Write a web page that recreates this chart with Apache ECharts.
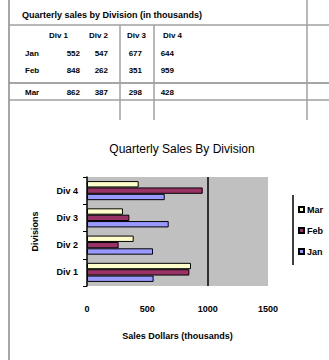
<!DOCTYPE html>
<html>
<head>
<meta charset="utf-8">
<script src="https://cdn.jsdelivr.net/npm/echarts@6/dist/echarts.min.js"></script>
<style>
  html, body { margin: 0; padding: 0; background: #fff; }
  #main { width: 329px; height: 360px; }
</style>
</head>
<body>
<div id="main"></div>
<script>
// sheet data
var tableTitle = 'Quarterly sales by Division (in thousands)';
var divisions = ['Div 1', 'Div 2', 'Div 3', 'Div 4'];
var months = ['Jan', 'Feb', 'Mar'];
var janSales = [552, 547, 677, 644];
var febSales = [848, 262, 351, 959];
var marSales = [862, 387, 298, 428];
var xTicks = [0, 500, 1000, 1500];

var monthRows = [janSales, febSales, marSales];
var monthColors = ['#9999ff', '#993366', '#ffffcc'];

var chartDom = document.getElementById('main');
var myChart = echarts.init(chartDom, null, { renderer: 'svg' });

// spreadsheet grid + table text
var sheet = [];
var gridColor = '#a0a0a0';
function hline(y, x1, x2, c) {
    sheet.push({ type: 'line', shape: { x1: x1, y1: y, x2: x2, y2: y }, style: { stroke: c || gridColor, lineWidth: 1.5 }, silent: true });
}
function vline(x, y1, y2, c) {
    sheet.push({ type: 'line', shape: { x1: x, y1: y1, x2: x, y2: y2 }, style: { stroke: c || gridColor, lineWidth: 1.5 }, silent: true });
}
vline(9, 0, 360, '#888');
hline(25, 9, 329);
hline(83, 9, 329, '#888');
hline(100, 9, 329);
vline(120, 25, 120);
vline(154, 25, 120);
vline(307, 0, 120);

var cellFont = 'bold 8px "Liberation Sans", Arial, sans-serif';
sheet.push({ type: 'text', left: 22, top: 10, style: { text: tableTitle, font: 'bold 9px "Liberation Sans", Arial, sans-serif', fill: '#000' }, silent: true });
var headX = [68, 108, 146, 182];
var valX = [80, 108, 142, 174];
var rowY = [53, 70, 92];
divisions.forEach(function (d, i) {
    sheet.push({ type: 'text', x: headX[i], y: 35, style: { text: d, font: cellFont, fill: '#000', align: 'right', verticalAlign: 'middle' }, silent: true });
});
months.forEach(function (m, r) {
    sheet.push({ type: 'text', x: 25, y: rowY[r], style: { text: m, font: cellFont, fill: '#000', align: 'left', verticalAlign: 'middle' }, silent: true });
    monthRows[r].forEach(function (v, i) {
        sheet.push({ type: 'text', x: valX[i], y: rowY[r], style: { text: String(v), font: cellFont, fill: '#000', align: 'right', verticalAlign: 'middle' }, silent: true });
    });
});

// legend box: only its left edge shows, the rest is cut off
vline(293, 195, 265, '#000');

// Excel stacks the first series at the bottom of each group,
// ECharts puts it on top, so feed them in reverse
var series = months.map(function (m, i) {
    return {
        name: m,
        type: 'bar',
        data: monthRows[i],
        barGap: '0%',
        barCategoryGap: '30%',
        itemStyle: { color: monthColors[i], borderColor: '#000', borderWidth: 1 }
    };
}).reverse();

var option = {
    animation: false,
    title: {
        text: 'Quarterly Sales By Division',
        left: 177,
        textAlign: 'center',
        top: 138,
        textStyle: { fontSize: 12, fontWeight: 'normal', color: '#000', fontFamily: '"Liberation Sans", Arial, sans-serif' }
    },
    legend: {
        data: ['Mar', 'Feb', 'Jan'],
        orient: 'vertical',
        left: 298,
        top: 205,
        padding: 0,
        itemWidth: 5,
        itemHeight: 5,
        itemGap: 12,
        icon: 'rect',
        textStyle: { fontSize: 9, fontWeight: 'bold', color: '#000', padding: [0, 0, 0, -2], fontFamily: '"Liberation Sans", Arial, sans-serif' }
    },
    grid: {
        left: 87,
        right: 61,
        top: 177,
        bottom: 74,
        show: true,
        backgroundColor: '#c0c0c0',
        borderWidth: 0
    },
    xAxis: {
        type: 'value',
        min: 0,
        max: 1500,
        interval: 500,
        name: 'Sales Dollars (thousands)',
        nameLocation: 'middle',
        nameGap: 45,
        nameTextStyle: { fontSize: 9, fontWeight: 'bold', color: '#000', fontFamily: '"Liberation Sans", Arial, sans-serif' },
        axisLine: { show: false },
        axisTick: { show: false },
        axisLabel: {
            fontSize: 9, fontWeight: 'bold', color: '#000', margin: 18,
            fontFamily: '"Liberation Sans", Arial, sans-serif',
            customValues: xTicks,
            formatter: function (v) { return String(v); }
        },
        splitLine: { show: true, lineStyle: { color: ['transparent', 'transparent', '#000'], width: 1.5 } }
    },
    yAxis: {
        type: 'category',
        data: divisions,
        name: 'Divisions',
        nameLocation: 'middle',
        nameGap: 48,
        nameTextStyle: { fontSize: 9, fontWeight: 'bold', color: '#000', fontFamily: '"Liberation Sans", Arial, sans-serif' },
        axisLine: { show: true, lineStyle: { color: '#000', width: 1.5 } },
        axisTick: { show: true, length: 4, lineStyle: { color: '#000' } },
        axisLabel: { fontSize: 9, fontWeight: 'bold', color: '#000', margin: 9, fontFamily: '"Liberation Sans", Arial, sans-serif' }
    },
    graphic: sheet,
    series: series
};
myChart.setOption(option);
</script>
</body>
</html>
